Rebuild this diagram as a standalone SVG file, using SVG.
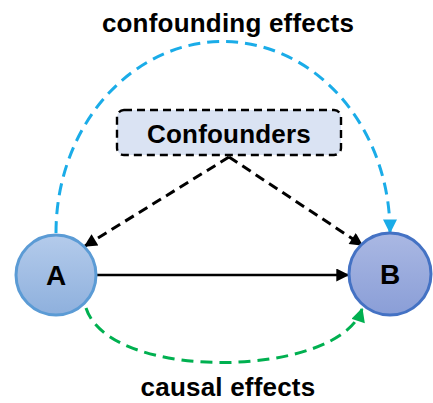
<svg xmlns="http://www.w3.org/2000/svg" width="433" height="403" viewBox="0 0 433 403">
<style>
text{font-family:"Liberation Sans",Arial,sans-serif;font-weight:bold;fill:#000;text-anchor:middle}
.lbl{font-size:26px;letter-spacing:0.2px}
.node{font-size:28px}
.blk{stroke:#000;stroke-width:2.6;fill:none}
.dash{stroke-width:3;stroke-dasharray:10 6}
</style>
<defs>
<linearGradient id="gA" x1="0" y1="0" x2="0" y2="1"><stop offset="0" stop-color="#b4cbeb"/><stop offset="1" stop-color="#8eb0dd"/></linearGradient>
<linearGradient id="gB" x1="0" y1="0" x2="0" y2="1"><stop offset="0" stop-color="#aab8e3"/><stop offset="1" stop-color="#8a9ed7"/></linearGradient>
<marker id="mk" viewBox="0 0 10 10" refX="9" refY="5" markerWidth="15" markerHeight="13" orient="auto" markerUnits="userSpaceOnUse"><path d="M0,0 L10,5 L0,10 Z" fill="#000"/></marker>
<marker id="mb" viewBox="0 0 10 10" refX="9" refY="5" markerWidth="15" markerHeight="14" orient="auto" markerUnits="userSpaceOnUse"><path d="M0,0 L10,5 L0,10 Z" fill="#1aace8"/></marker>
<marker id="mg" viewBox="0 0 10 10" refX="9" refY="5" markerWidth="15" markerHeight="14" orient="auto" markerUnits="userSpaceOnUse"><path d="M0,0 L10,5 L0,10 Z" fill="#00b050"/></marker>
</defs>
<g id="connectors">
<path d="M56,233 A167,191 0 0 1 390,232" fill="none" stroke="#1aace8" stroke-width="3" stroke-dasharray="12 7" marker-end="url(#mb)"/>
<path d="M86,308 C110,383 340,378 362,309" fill="none" stroke="#00b050" stroke-width="3" stroke-dasharray="12 7" marker-end="url(#mg)"/>
<line x1="96" y1="275" x2="348" y2="275" class="blk" marker-end="url(#mk)"/>
<line x1="229" y1="157" x2="85" y2="246" class="blk dash" marker-end="url(#mk)"/>
<line x1="229" y1="157" x2="362" y2="245" class="blk dash" marker-end="url(#mk)"/>
</g>
<g id="confounders">
<rect x="117" y="110" width="224" height="45" rx="7" fill="#dae3f3" stroke="#000" stroke-width="2.4" stroke-dasharray="8 5"/>
<text class="lbl" x="229" y="143">Confounders</text>
</g>
<g id="A">
<circle cx="56" cy="275" r="40" fill="url(#gA)" stroke="#5b9bd5" stroke-width="3"/>
<text class="node" x="56" y="285">A</text>
</g>
<g id="B">
<circle cx="390" cy="274" r="41" fill="url(#gB)" stroke="#4472c4" stroke-width="3"/>
<text class="node" x="390" y="284">B</text>
</g>
<g id="labels">
<text class="lbl" x="228" y="32">confounding effects</text>
<text class="lbl" x="228" y="396">causal effects</text>
</g>
</svg>
